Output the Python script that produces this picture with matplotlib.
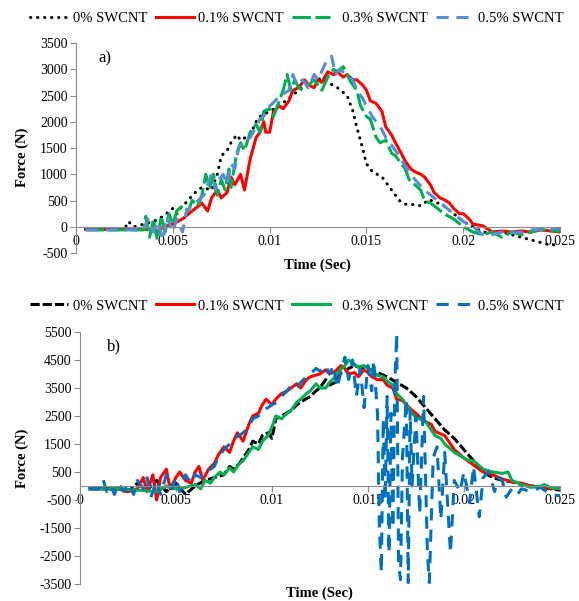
import matplotlib
matplotlib.use('Agg')
import matplotlib.pyplot as plt

plt.rcParams['font.family'] = ['Liberation Serif', 'DejaVu Serif']
plt.rcParams['axes.unicode_minus'] = False

LABELS = ['0% SWCNT', '0.1% SWCNT', '  0.3% SWCNT', '0.5% SWCNT']

# ---- panel a) ----
a0_t = [0.0005, 0.0015, 0.0025, 0.0027, 0.003, 0.0035, 0.004, 0.0045, 0.005, 0.0052, 0.0055,
        0.0058, 0.006, 0.0063, 0.0065, 0.007, 0.0073, 0.0075, 0.0078, 0.008, 0.0083, 0.0085,
        0.009, 0.0093, 0.0095, 0.01, 0.0105, 0.011, 0.0115, 0.012, 0.0123, 0.0127, 0.013,
        0.0135, 0.014, 0.0143, 0.0145, 0.0148, 0.015, 0.0153, 0.0158, 0.016, 0.0163, 0.0167,
        0.017, 0.0175, 0.0178, 0.018, 0.0182, 0.0185, 0.019, 0.0195, 0.02, 0.0205, 0.021,
        0.0215, 0.022, 0.0225, 0.023, 0.0235, 0.024, 0.0245, 0.025]
a0_f = [-50, -50, -50, 100, 0, 50, 100, 200, 350, 250, 400,
        500, 600, 700, 750, 700, 1000, 1350, 1450, 1600, 1750, 1650,
        1750, 2000, 2100, 2200, 2300, 2450, 2600, 2750, 2800, 2820, 2750,
        2650, 2500, 2200, 1900, 1500, 1200, 1050, 950, 850, 700, 500,
        430, 420, 400, 450, 520, 480, 400, 250, 100, 0, -100,
        -120, -100, -150, -200, -250, -300, -350, -330]

a1_t = [0.0005, 0.002, 0.004, 0.0042, 0.0045, 0.005, 0.0055, 0.006, 0.0065, 0.0068, 0.007,
        0.0073, 0.0075, 0.0078, 0.008, 0.0082, 0.0085, 0.0087, 0.0088, 0.009, 0.0093, 0.0095,
        0.0097, 0.0098, 0.01, 0.0102, 0.0105, 0.0107, 0.011, 0.0112, 0.0115, 0.0118, 0.012,
        0.0123, 0.0125, 0.0127, 0.013, 0.0133, 0.0135, 0.0138, 0.014, 0.0143, 0.0145, 0.0148,
        0.015, 0.0152, 0.0155, 0.0158, 0.016, 0.0163, 0.0165, 0.0168, 0.017, 0.0173, 0.0175,
        0.0178, 0.018, 0.0183, 0.0185, 0.0188, 0.019, 0.0193, 0.0195, 0.0198, 0.02, 0.0203,
        0.0205, 0.021, 0.0213, 0.0215, 0.022, 0.0225, 0.023, 0.0235, 0.024, 0.0245, 0.025]
a1_f = [-50, -50, -50, -100, 0, 50, 150, 300, 450, 300, 550,
        700, 550, 650, 950, 800, 1000, 700, 900, 1300, 1700, 1800,
        2000, 1800, 1800, 2200, 2300, 2250, 2400, 2600, 2650, 2800, 2700,
        2650, 2800, 2750, 2950, 2900, 2950, 2850, 2900, 2800, 2800, 2700,
        2600, 2400, 2350, 2200, 1900, 1750, 1600, 1400, 1250, 1100, 1050,
        1000, 950, 800, 650, 550, 520, 450, 350, 250, 250, 150,
        50, 20, -50, -100, -80, -100, -80, -100, -60, -80, -100]

a3_t = [0.0005, 0.002, 0.0035, 0.0036, 0.0038, 0.004, 0.0042, 0.0044, 0.0046, 0.0048, 0.005,
        0.0052, 0.0055, 0.0058, 0.006, 0.0063, 0.0065, 0.0067, 0.0069, 0.0071, 0.0073, 0.0075,
        0.0077, 0.0079, 0.008, 0.0083, 0.0085, 0.0087, 0.009, 0.0093, 0.0095, 0.0097, 0.01,
        0.0102, 0.0105, 0.0107, 0.0109, 0.0111, 0.0113, 0.0115, 0.0117, 0.012, 0.0123, 0.0125,
        0.0127, 0.013, 0.0133, 0.0135, 0.0138, 0.014, 0.0142, 0.0145, 0.0147, 0.015, 0.0152,
        0.0155, 0.0157, 0.016, 0.0163, 0.0165, 0.0168, 0.017, 0.0172, 0.0175, 0.0178, 0.018,
        0.0183, 0.0185, 0.019, 0.0195, 0.02, 0.0205, 0.021, 0.0215, 0.022, 0.0225, 0.023,
        0.0235, 0.024, 0.0245, 0.025]
a3_f = [-60, -60, -60, 200, -200, 150, -250, 200, -100, 250, 50,
        300, 400, 300, 500, 400, 600, 1000, 750, 1000, 600, 900,
        700, 1100, 750, 1400, 1600, 1450, 1800, 1950, 1800, 2200, 2250,
        2100, 2400, 2600, 2900, 2600, 2800, 2650, 2600, 2700, 2800, 2700,
        2600, 2850, 3000, 2950, 3050, 2900, 2750, 2600, 2300, 2100, 2050,
        1700, 1600, 1650, 1400, 1350, 1200, 1100, 900, 800, 700, 500,
        450, 400, 250, 150, 0, -100, -150, -100, -200, -100, -150,
        -100, -50, -80, -80]

a5_t = [0.0005, 0.002, 0.0035, 0.0037, 0.004, 0.0042, 0.0045, 0.0047, 0.005, 0.0052, 0.0055,
        0.0057, 0.006, 0.0063, 0.0066, 0.0068, 0.007, 0.0072, 0.0074, 0.0076, 0.0078, 0.008,
        0.0082, 0.0084, 0.0087, 0.009, 0.0093, 0.0095, 0.0098, 0.01, 0.0103, 0.0105, 0.0108,
        0.011, 0.0112, 0.0114, 0.0117, 0.012, 0.0123, 0.0125, 0.0128, 0.013, 0.0132, 0.0134,
        0.0136, 0.0138, 0.014, 0.0143, 0.0145, 0.0148, 0.015, 0.0153, 0.0155, 0.0158, 0.016,
        0.0163, 0.0165, 0.0168, 0.017, 0.0173, 0.0175, 0.018, 0.0185, 0.019, 0.0195, 0.02,
        0.0205, 0.021, 0.0215, 0.022, 0.0225, 0.023, 0.0235, 0.024, 0.0245, 0.025]
a5_f = [-60, -60, -60, 150, -100, 100, -250, 200, -100, 150, -100,
        300, 400, 500, 600, 800, 1000, 700, 900, 1000, 800, 1200,
        1100, 1500, 1650, 1700, 1900, 2050, 2150, 2300, 2400, 2500, 2550,
        2600, 2900, 2700, 2800, 2650, 2900, 2800, 3050, 3200, 3250, 2900,
        3000, 2950, 2900, 2800, 2600, 2450, 2300, 2100, 2000, 1850, 1700,
        1550, 1450, 1300, 1150, 1000, 900, 700, 550, 400, 250, 100,
        0, -150, -150, -100, -120, -100, -60, -50, -40, -30]

# ---- panel b) ----
b0_t = [0.0005, 0.002, 0.0025, 0.003, 0.0035, 0.004, 0.0045, 0.005, 0.0055, 0.006, 0.0065,
        0.007, 0.0075, 0.0078, 0.008, 0.0083, 0.0085, 0.0088, 0.009, 0.0093, 0.0095, 0.0098,
        0.01, 0.0102, 0.0105, 0.011, 0.0113, 0.0115, 0.012, 0.0123, 0.0125, 0.0128, 0.013,
        0.0133, 0.0135, 0.0138, 0.014, 0.0143, 0.0145, 0.015, 0.0155, 0.016, 0.0165, 0.017,
        0.0175, 0.018, 0.0185, 0.019, 0.0195, 0.02, 0.0205, 0.021, 0.0215, 0.022, 0.0225,
        0.023, 0.0235, 0.024, 0.0245, 0.025]
b0_f = [-100, -100, -200, 100, -150, 200, -200, 100, -300, 0, 200,
        300, 400, 700, 600, 800, 1000, 1300, 1600, 1500, 1800, 1900,
        1700, 2400, 2500, 2700, 2900, 3000, 3200, 3400, 3500, 3800, 3600,
        3700, 4000, 4100, 4200, 4300, 4250, 4200, 4050, 3900, 3700, 3500,
        3200, 2800, 2400, 2000, 1700, 1300, 900, 500, 300, 200, 150,
        50, 0, -50, -100, -150]

b1_t = [0.0005, 0.002, 0.0025, 0.003, 0.0033, 0.0035, 0.0038, 0.004, 0.0042, 0.0045, 0.0047,
        0.005, 0.0052, 0.0055, 0.0058, 0.006, 0.0062, 0.0064, 0.0067, 0.007, 0.0072, 0.0075,
        0.0078, 0.008, 0.0082, 0.0085, 0.0088, 0.009, 0.0093, 0.0095, 0.0097, 0.01, 0.0102,
        0.0105, 0.0108, 0.011, 0.0113, 0.0115, 0.0118, 0.012, 0.0125, 0.0128, 0.013, 0.0133,
        0.0136, 0.0138, 0.014, 0.0143, 0.0145, 0.0148, 0.015, 0.0152, 0.0155, 0.0158, 0.016,
        0.0163, 0.0165, 0.0168, 0.017, 0.0173, 0.0175, 0.0178, 0.018, 0.0183, 0.0185, 0.019,
        0.0193, 0.0195, 0.02, 0.0205, 0.021, 0.0215, 0.022, 0.0225, 0.023, 0.0235, 0.024,
        0.0245, 0.025]
b1_f = [-100, -100, -200, -100, 300, -200, 400, -500, 300, 600, -100,
        300, 500, 200, 100, 500, 700, 200, 600, 800, 1100, 1400,
        1200, 1600, 1900, 1600, 2200, 2500, 2600, 2900, 3100, 2900, 3100,
        3300, 3400, 3500, 3650, 3500, 3800, 3900, 4000, 4150, 4000, 4100,
        4300, 4200, 4000, 4050, 3900, 4150, 4050, 3900, 3800, 3800, 3600,
        3500, 3100, 3050, 2900, 2700, 2600, 2400, 2300, 2200, 1950, 1800,
        1500, 1300, 1000, 750, 500, 400, 250, 150, 100, 0, -50,
        -80, -100]

b3_t = [0.0005, 0.002, 0.003, 0.004, 0.0045, 0.005, 0.0055, 0.006, 0.0063, 0.0065, 0.0068,
        0.007, 0.0073, 0.0075, 0.0078, 0.008, 0.0083, 0.0085, 0.0088, 0.009, 0.0093, 0.0095,
        0.0098, 0.01, 0.0102, 0.0105, 0.0108, 0.011, 0.0113, 0.0115, 0.0118, 0.012, 0.0123,
        0.0125, 0.0128, 0.013, 0.0133, 0.0135, 0.0138, 0.014, 0.0143, 0.0145, 0.0148, 0.015,
        0.0153, 0.0155, 0.0158, 0.016, 0.0163, 0.0165, 0.0168, 0.017, 0.0173, 0.0175, 0.018,
        0.0183, 0.0185, 0.0188, 0.019, 0.0195, 0.02, 0.0203, 0.0205, 0.021, 0.0215, 0.022,
        0.0223, 0.0225, 0.023, 0.0235, 0.024, 0.0242, 0.0245, 0.025]
b3_f = [-100, -100, -150, -200, 0, -100, -50, 50, -100, 200, 100,
        300, 500, 400, 650, 500, 800, 900, 1200, 1400, 1300, 1600,
        1800, 2100, 2500, 2400, 2600, 2700, 3000, 3100, 3300, 3400, 3650,
        3500, 3500, 3700, 3900, 4100, 4300, 4500, 4350, 4250, 4300, 4200,
        4050, 3950, 3900, 3750, 3600, 3300, 3100, 2900, 2600, 2450, 2300,
        2000, 1800, 1700, 1500, 1200, 1000, 900, 900, 600, 500, 450,
        500, 200, 50, -50, 0, 50, -50, -100]

b5_t = [0.0005, 0.001, 0.0012, 0.0014, 0.0016, 0.0018, 0.002, 0.0023, 0.0025, 0.0028, 0.003,
        0.0033, 0.0035, 0.0037, 0.004, 0.0042, 0.0045, 0.0048, 0.005, 0.0052, 0.0055, 0.0058,
        0.006, 0.0063, 0.0065, 0.0068, 0.007, 0.0072, 0.0075, 0.0078, 0.008, 0.0083, 0.0085,
        0.0088, 0.009, 0.0093, 0.0095, 0.0098, 0.01, 0.0103, 0.0105, 0.0108, 0.011, 0.0113,
        0.0115, 0.0118, 0.012, 0.0123, 0.0125, 0.0128, 0.013, 0.0132, 0.0134, 0.0136, 0.0138,
        0.014, 0.0142, 0.0144, 0.0146, 0.0148, 0.015, 0.0152, 0.0153, 0.0155, 0.0156, 0.0157,
        0.0158, 0.0159, 0.016, 0.0161, 0.0162, 0.0163, 0.0164, 0.0165, 0.0166, 0.0167, 0.0168,
        0.017, 0.0171, 0.0172, 0.0173, 0.0175, 0.0177, 0.0179, 0.0181, 0.0182, 0.0184, 0.0186,
        0.0188, 0.019, 0.0193, 0.0195, 0.0198, 0.02, 0.0203, 0.0205, 0.0208, 0.021, 0.0213,
        0.0216, 0.0218, 0.022, 0.0222, 0.0225, 0.0228, 0.023, 0.0235, 0.024, 0.0245, 0.025]
b5_f = [-100, -100, 250, -200, 0, -300, 100, -200, 100, -300, 200,
        -100, 300, -400, 200, -300, 400, -100, 300, -200, 400, 100,
        400, 300, 500, 600, 700, 1000, 1300, 1500, 1700, 1800, 1900,
        2100, 2400, 2500, 2700, 2800, 2900, 3000, 3200, 3400, 3600, 3500,
        3700, 3900, 4000, 4200, 4100, 4300, 4000, 4300, 3500, 4100, 4600,
        3800, 4500, 3200, 4200, 2800, 4300, 3400, 4500, 2600, -1500, -3100,
        2400, -500, 3200, -2400, 2600, -1500, 3600, 5450, -2800, -3350, 1000,
        3100, -3450, 2700, 0, 2500, -1000, 3200, -2400, -3450, 1000, 1400,
        -1200, 1200, -2400, 200, -200, 500, -600, 700, -1100, 300, 500,
        -200, 300, 200, -400, -100, -300, -100, -200, -50, -300, -350]

X_TICKS = [0, 0.005, 0.01, 0.015, 0.02, 0.025]
X_TICKLABELS = ['0', '0.005', '0.01', '0.015', '0.02', '0.025']
A_YTICKS = list(range(-500, 3501, 500))
B_YTICKS = list(range(-3500, 5501, 1000))

RED, GREEN, LBLUE, BLUE = '#FF0000', '#00B050', '#558ED5', '#0070C0'
LW = 2.2
AXCOL = '#8C8C8C'


def style_axes(ax, ylim, yticks):
    ax.set_xlim(0, 0.025)
    ax.set_ylim(*ylim)
    ax.set_xticks(X_TICKS)
    ax.set_xticklabels(X_TICKLABELS)
    ax.set_yticks(yticks)
    ax.spines['top'].set_visible(False)
    ax.spines['right'].set_visible(False)
    ax.spines['bottom'].set_position(('data', 0))
    ax.spines['bottom'].set_color(AXCOL)
    ax.spines['left'].set_color(AXCOL)
    ax.tick_params(axis='both', direction='out', length=4, color=AXCOL,
                   labelsize=10, pad=2)


fig = plt.figure(figsize=(5.79, 6.01), dpi=100)

# panel a
ax1 = fig.add_axes([0.1313, 0.579, 0.836, 0.3494])
h0, = ax1.plot(a0_t, a0_f, color='black', lw=LW, ls=(0, (0.1, 2.2)),
               dash_capstyle='round', label=LABELS[0])
h1, = ax1.plot(a1_t, a1_f, color=RED, lw=LW, label=LABELS[1])
h3, = ax1.plot(a3_t, a3_f, color=GREEN, lw=LW, ls=(0, (6, 1.5)), label=LABELS[2])
h5, = ax1.plot(a5_t, a5_f, color=LBLUE, lw=LW, ls=(0, (4, 2.5)), label=LABELS[3])
style_axes(ax1, (-500, 3500), A_YTICKS)
ax1.text(0.0015, 3200, 'a)', fontsize=12, ha='center', va='center')
fig.legend(handles=[h0, h1, h3, h5], loc='center', bbox_to_anchor=(0.513, 0.970),
           ncol=4, frameon=False, fontsize=10.5, handlelength=2.6,
           handletextpad=0.3, columnspacing=0.6)
fig.text(0.549, 0.559, 'Time (Sec)', ha='center', va='center', fontsize=10.5,
         fontweight='bold')
fig.text(0.038, 0.739, 'Force (N)', ha='center', va='center', rotation=90,
         fontsize=10.5, fontweight='bold')

# panel b
ax2 = fig.add_axes([0.138, 0.0283, 0.829, 0.4193])
g0, = ax2.plot(b0_t, b0_f, color='black', lw=LW, ls=(0, (3, 1)), label=LABELS[0])
g1, = ax2.plot(b1_t, b1_f, color=RED, lw=LW, label=LABELS[1])
g3, = ax2.plot(b3_t, b3_f, color=GREEN, lw=LW, label=LABELS[2])
g5, = ax2.plot(b5_t, b5_f, color=BLUE, lw=LW, ls=(0, (4, 3)), label=LABELS[3])
style_axes(ax2, (-3500, 5500), B_YTICKS)
ax2.text(0.0018, 5000, 'b)', fontsize=12, ha='center', va='center')
fig.legend(handles=[g0, g1, g3, g5], loc='center', bbox_to_anchor=(0.513, 0.491),
           ncol=4, frameon=False, fontsize=10.5, handlelength=2.6,
           handletextpad=0.3, columnspacing=0.6)
fig.text(0.552, 0.002, 'Time (Sec)', ha='center', va='bottom', fontsize=10.5,
         fontweight='bold')
fig.text(0.038, 0.238, 'Force (N)', ha='center', va='center', rotation=90,
         fontsize=10.5, fontweight='bold')

fig.savefig('out.png', dpi=100)
